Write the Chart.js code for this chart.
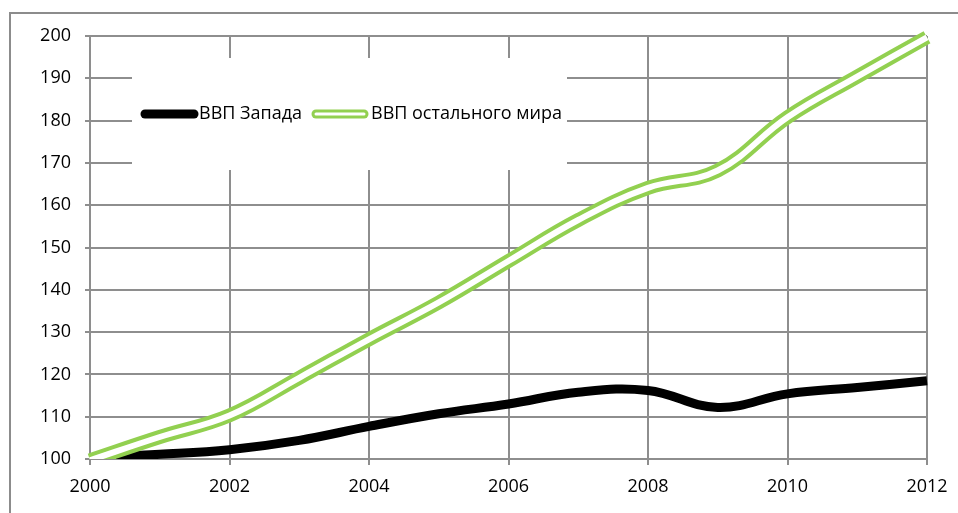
<!DOCTYPE html>
<html><head><meta charset="utf-8">
<script src="https://cdn.jsdelivr.net/npm/chart.js@4.4.1/dist/chart.umd.min.js"></script>
<style>
html,body{margin:0;padding:0;background:#fff;overflow:hidden;width:958px;height:513px}
#frame{position:absolute;left:9px;top:12px;width:1100px;height:700px;border:2px solid #8c8c8c;box-sizing:border-box}
#c{position:absolute;left:0;top:0}
</style></head><body>
<div id="frame"></div>
<canvas id="c" width="958" height="513"></canvas>
<script>
const years = [2000, 2001, 2002, 2003, 2004, 2005, 2006, 2007, 2008, 2009, 2010, 2011, 2012];
const westGDP = [100.3, 101.1, 102.2, 104.4, 107.7, 110.7, 113.0, 115.8, 116.2, 112.2, 115.4, 116.9, 118.5];
const restGDP = [99.7, 105.2, 110.3, 119.2, 128.3, 137.0, 146.8, 156.5, 164.1, 168.2, 180.8, 190.4, 199.7];
const seriesNames = ['ВВП Запада', 'ВВП остального мира'];
const xTickValues = [2000, 2002, 2004, 2006, 2008, 2010, 2012];
const yTickValues = [100, 110, 120, 130, 140, 150, 160, 170, 180, 190, 200];

const GREEN = '#92D050';
const GRID = '#8e8e8e';
const FONT = '"Open Sans", sans-serif';

const pts = arr => years.map((y, i) => ({x: y, y: arr[i]}));
const clipBox = {left: 10, top: 10, right: 10, bottom: 0};

const legendPlugin = {
  id: 'boxLegend',
  beforeDatasetsDraw(chart) {
    const ctx = chart.ctx;
    ctx.save();
    ctx.fillStyle = '#fff';
    ctx.fillRect(132, 58, 435, 112);
    const y = 114;
    ctx.lineCap = 'round';
    ctx.strokeStyle = '#000';
    ctx.lineWidth = 9;
    ctx.beginPath(); ctx.moveTo(145, y); ctx.lineTo(194, y); ctx.stroke();
    ctx.strokeStyle = GREEN;
    ctx.lineWidth = 9;
    ctx.beginPath(); ctx.moveTo(316, y); ctx.lineTo(364, y); ctx.stroke();
    ctx.strokeStyle = '#fff';
    ctx.lineWidth = 3;
    ctx.beginPath(); ctx.moveTo(316, y); ctx.lineTo(364, y); ctx.stroke();
    ctx.fillStyle = '#000';
    ctx.font = '18px ' + FONT;
    ctx.textBaseline = 'middle';
    ctx.textAlign = 'left';
    ctx.fillText(seriesNames[0], 199, y);
    ctx.fillText(seriesNames[1], 371, y);
    ctx.restore();
  }
};

new Chart(document.getElementById('c'), {
  type: 'line',
  data: {
    datasets: [
      {label: seriesNames[0], data: pts(westGDP), borderColor: '#000', borderWidth: 9,
       pointRadius: 0, tension: 0.4, order: 3, clip: clipBox},
      {label: seriesNames[1], data: pts(restGDP), borderColor: GREEN, borderWidth: 14,
       pointRadius: 0, tension: 0.4, order: 2, clip: clipBox},
      {label: seriesNames[1] + ' (inner)', data: pts(restGDP), borderColor: '#fff', borderWidth: 6,
       pointRadius: 0, tension: 0.4, order: 1, clip: clipBox}
    ]
  },
  options: {
    responsive: false,
    animation: false,
    events: [],
    layout: {padding: {top: 36, right: 31, left: 0, bottom: 0}},
    plugins: {legend: {display: false}, tooltip: {enabled: false}},
    scales: {
      x: {
        type: 'linear', min: 2000, max: 2012,
        afterBuildTicks: s => { s.ticks = xTickValues.map(v => ({value: v})); },
        afterFit: s => { s.height = 54; s.paddingLeft = 0; s.paddingRight = 0; },
        ticks: {color: '#000', font: {family: FONT, size: 18}, padding: 11, maxRotation: 0,
                callback: v => String(v)},
        grid: {color: GRID, lineWidth: 2, tickLength: 6, drawTicks: true},
        border: {color: GRID, width: 2}
      },
      y: {
        min: 100, max: 200,
        afterBuildTicks: s => { s.ticks = yTickValues.map(v => ({value: v})); },
        afterFit: s => { s.width = 90; s.paddingTop = 0; s.paddingBottom = 0; },
        ticks: {color: '#000', font: {family: FONT, size: 18}, padding: 14,
                callback: v => String(v)},
        grid: {color: GRID, lineWidth: 2, tickLength: 5},
        border: {color: GRID, width: 2}
      }
    }
  },
  plugins: [legendPlugin]
});
</script>
</body></html>
